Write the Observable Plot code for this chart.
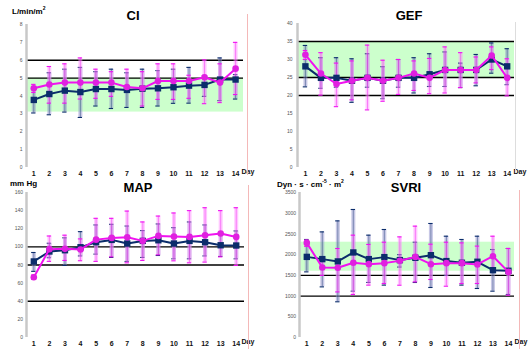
<!DOCTYPE html>
<html><head><meta charset="utf-8">
<script src="https://cdn.jsdelivr.net/npm/d3@7"></script>
<script src="https://cdn.jsdelivr.net/npm/@observablehq/plot@0.6"></script>
<style>
html,body{margin:0;padding:0;background:#fff;}
#root{position:relative;width:528px;height:349px;overflow:hidden;font-family:"Liberation Sans",Arial,sans-serif;background:#fff;}
.panel{position:absolute;}
.panel svg{background:transparent;overflow:visible;display:block;}
.ttl{position:absolute;font-weight:bold;font-size:13px;transform:translate(-50%,-50%);white-space:nowrap;color:#000;}
.unit{position:absolute;font-weight:bold;font-size:8px;transform:translateY(-50%);white-space:nowrap;color:#000;line-height:1;}
.vl{position:absolute;width:1px;}
[aria-label^="x-axis"] text{font-size:7px;font-weight:bold;fill:#111;}
[aria-label^="y-axis"] text{font-size:5px;fill:#555;}
</style></head><body><div id="root"></div><script>
// ---- data ----
const days = [1,2,3,4,5,6,7,8,9,10,11,12,13,14];
const dayLabel = "Day";

const ciNavy   = [3.78,4.11,4.30,4.22,4.39,4.39,4.34,4.41,4.43,4.49,4.58,4.62,4.92,4.92];
const ciNavyLo = [3.05,2.95,3.10,2.80,3.44,3.30,3.36,3.36,3.44,3.59,3.60,3.98,3.74,3.83];
const ciNavyHi = [4.50,5.30,5.50,5.60,5.36,5.50,5.30,5.50,5.42,5.50,5.60,5.15,6.13,5.20];
const ciPink   = [4.43,4.64,4.75,4.75,4.75,4.75,4.50,4.43,4.84,4.84,4.84,5.05,4.75,5.53];
const ciPinkLo = [4.20,3.60,3.60,3.83,3.87,3.98,4.20,3.44,3.81,3.81,3.87,3.57,3.63,4.08];
const ciPinkHi = [4.65,5.65,5.80,6.13,5.50,5.36,5.50,5.36,5.80,5.80,5.16,6.02,5.80,7.00];
const ciTicks = [0,1,2,3,4,5,6,7,8];
const ciBand = [3.1,5];
const ciRefs = [5,6];

const gefNavy   = [28.1,24.9,24.9,24.1,24.9,24.1,24.9,24.9,25.9,27.1,27.1,27.1,30.0,28.1];
const gefNavyLo = [22.4,22.0,22.3,18.1,22.3,19.1,22.3,20.7,22.5,22.5,22.2,22.7,26.2,23.0];
const gefNavyHi = [33.9,30.5,30.5,30.2,31.6,28.0,30.0,30.5,31.6,32.1,29.0,31.4,34.6,33.0];
const gefPink   = [31.3,26.1,23.2,24.1,24.9,24.1,24.9,26.1,24.9,27.1,27.1,27.1,31.1,24.9];
const gefPinkLo = [30.0,20.1,16.9,18.8,16.0,18.4,20.3,21.4,20.5,20.7,22.2,23.5,27.2,19.9];
const gefPinkHi = [32.5,31.9,29.0,29.6,34.0,29.8,30.0,29.6,30.3,33.5,31.9,30.7,33.5,30.2];
const gefTicks = [0,5,10,15,20,25,30,35,40];
const gefBand = [25,35];
const gefRefs = [20,25,35];

const mapNavy   = [83.9,94.9,96.3,99.6,105.1,107.7,103.7,106.6,107.3,103.7,106.6,105.1,101.8,101.5];
const mapNavyLo = [73.0,88.0,79.5,90.0,92.0,88.3,83.9,88.3,90.5,86.8,86.8,90.0,89.4,86.8];
const mapNavyHi = [93.8,104.0,110.0,116.8,124.2,124.9,123.0,118.0,125.3,121.2,127.5,124.2,115.0,117.6];
const mapPink   = [66.5,97.5,97.8,97.1,108.0,109.9,110.6,106.6,112.1,111.4,111.0,112.8,114.7,111.0];
const mapPinkLo = [64.0,84.0,85.0,84.7,84.0,89.0,82.4,85.0,91.2,84.6,82.4,83.2,89.0,79.5];
const mapPinkHi = [69.0,112.0,112.9,108.8,131.5,131.5,139.5,127.5,134.0,137.4,140.0,143.2,140.0,143.2];
const mapTicks = [0,20,40,60,80,100,120,140,160];
const mapRefs = [40,80,100];

const svNavy   = [1946,1892,1836,2053,1892,1940,1868,1924,1987,1844,1804,1828,1625,1610];
const svNavyLo = [1584,1222,862,1119,1328,1264,1700,1328,1207,1500,1264,1183,1118,1039];
const svNavyHi = [2366,2549,2815,3090,2470,2607,2000,2300,2752,2445,2366,2445,2124,2148];
const svPink   = [2284,1690,1683,1804,1771,1795,1852,1946,1769,1795,1795,1763,1962,1584];
const svPinkLo = [2200,1500,1100,1038,1264,1303,1262,1342,1400,1238,1303,1303,1600,1021];
const svPinkHi = [2350,1900,2148,2470,2246,2300,2429,2688,2252,2300,2284,2206,2445,2150];
const svTicks = [0,500,1000,1500,2000,2500,3000,3500];
const svBand = [1600,2300];
const svRefs = [1000,1500];

// ---- styling ----
const NAVY = "#0b2d6b";
const MAG = "#f012f0";
const MAGDOT = "#e020e0";

function panel(o) {
  const A = days.map((d, i) => ({day: d, v: o.a[i], lo: o.aLo[i], hi: o.aHi[i]}));
  const B = days.map((d, i) => ({day: d, v: o.b[i], lo: o.bLo[i], hi: o.bHi[i]}));
  const x0 = o.xDomain[0], x1 = o.xDomain[1];
  const marks = [];
  if (o.band) {
    const bandRow = [{left: x0, right: x1, lo: o.band[0], hi: o.band[1]}];
    marks.push(Plot.rect(bandRow, {x1: "left", x2: "right", y1: "lo", y2: "hi", fill: "#ccffcc", inset: 0}));
  }
  marks.push(Plot.ruleY(o.refs, {stroke: "#000", strokeWidth: 1.3}));
  marks.push(Plot.ruleX([x0], {stroke: "#c8c8c8", strokeWidth: 2.5}));
  for (const [S, c, light] of [[A, NAVY, "#9090cc"], [B, MAG, "#ff90ff"]]) {
    marks.push(Plot.ruleX(S, {x: "day", y1: "lo", y2: "hi", stroke: light, strokeWidth: 4, strokeOpacity: 0.5}));
    marks.push(Plot.ruleX(S, {x: "day", y1: "lo", y2: "hi", stroke: c, strokeWidth: 0.7, strokeOpacity: 0.6}));
    marks.push(Plot.ruleY(S, {y: "hi", x1: d => d.day - 0.14, x2: d => d.day + 0.14, stroke: c, strokeWidth: 1.1}));
    marks.push(Plot.ruleY(S, {y: "lo", x1: d => d.day - 0.14, x2: d => d.day + 0.14, stroke: c, strokeWidth: 1.1}));
  }
  marks.push(Plot.line(A, {x: "day", y: "v", stroke: NAVY, strokeWidth: 2}));
  marks.push(Plot.dot(A, {x: "day", y: "v", symbol: "square", r: 3.6, fill: NAVY}));
  marks.push(Plot.line(B, {x: "day", y: "v", stroke: MAG, strokeWidth: 2}));
  marks.push(Plot.dot(B, {x: "day", y: "v", symbol: "circle", r: 3.3, fill: MAGDOT}));
  marks.push(Plot.text([dayLabel], {text: d => d, frameAnchor: "bottom-right", textAnchor: "start", dx: o.dayDx, dy: 6, fontSize: 7, fontWeight: "bold", fill: "#111"}));
  return Plot.plot({
    width: o.w, height: o.h,
    marginLeft: o.ml, marginRight: o.mr, marginTop: o.mt, marginBottom: o.mb,
    x: {type: "linear", domain: o.xDomain, ticks: days, tickSize: 0, tickPadding: 3.5, tickFormat: d => String(d), label: null},
    y: {domain: o.yDomain, ticks: o.yTicks, tickSize: 0, tickPadding: o.yPad, tickFormat: d => String(d), label: null},
    style: {background: "transparent", fontFamily: "Liberation Sans, Arial, sans-serif"},
    marks
  });
}

const root = document.getElementById("root");
function place(node, left, top) {
  const d = document.createElement("div");
  d.className = "panel";
  d.style.left = left + "px"; d.style.top = top + "px";
  d.appendChild(node);
  root.appendChild(d);
}
function label(cls, text, left, top, size) {
  const d = document.createElement("div");
  d.className = cls;
  d.innerHTML = text;
  d.style.left = left + "px"; d.style.top = top + "px";
  if (size) d.style.fontSize = size + "px";
  root.appendChild(d);
}
function vline(left, top, h, color) {
  const d = document.createElement("div");
  d.className = "vl";
  d.style.left = left + "px"; d.style.top = top + "px"; d.style.height = h + "px"; d.style.background = color;
  root.appendChild(d);
}

place(panel({a: ciNavy, aLo: ciNavyLo, aHi: ciNavyHi, b: ciPink, bLo: ciPinkLo, bHi: ciPinkHi,
  yDomain: [0, 8], yTicks: ciTicks, band: ciBand, refs: ciRefs, xDomain: [0.53, 14.51],
  w: 264, h: 180, ml: 26, mr: 21, mt: 24, mb: 13, yPad: 4, dayDx: -2}), 0, 0);
place(panel({a: gefNavy, aLo: gefNavyLo, aHi: gefNavyHi, b: gefPink, bLo: gefPinkLo, bHi: gefPinkHi,
  yDomain: [0, 40], yTicks: gefTicks, band: gefBand, refs: gefRefs, xDomain: [0.49, 14.47],
  w: 264, h: 180, ml: 33, mr: 14, mt: 23, mb: 13, yPad: 5, dayDx: -1}), 264, 0);
place(panel({a: mapNavy, aLo: mapNavyLo, aHi: mapNavyHi, b: mapPink, bLo: mapPinkLo, bHi: mapPinkHi,
  yDomain: [0, 160], yTicks: mapTicks, band: null, refs: mapRefs, xDomain: [0.53, 14.53],
  w: 264, h: 174, ml: 26, mr: 20, mt: 17, mb: 12, yPad: 3.5, dayDx: -3}), 0, 175);
place(panel({a: svNavy, aLo: svNavyLo, aHi: svNavyHi, b: svPink, bLo: svPinkLo, bHi: svPinkHi,
  yDomain: [0, 3500], yTicks: svTicks, band: svBand, refs: svRefs, xDomain: [0.53, 14.39],
  w: 264, h: 174, ml: 35, mr: 14, mt: 17, mb: 12, yPad: 3.5, dayDx: 0}), 264, 175);

vline(247, 14, 161, "#f4b8b8");
vline(515, 22, 150, "#dddddd");
vline(248, 185, 164, "#f4b8b8");
vline(519, 190, 159, "#f4b8b8");

label("ttl", "CI", 133, 15);
label("ttl", "GEF", 409, 15);
label("ttl", "MAP", 138, 187);
label("ttl", "SVRI", 406, 187);
label("unit", "L/min/m<sup style='font-size:5px'>2</sup>", 12, 11, 8);
label("unit", "mm Hg", 10, 184, 8);
label("unit", "Dyn · s · cm<sup style='font-size:5px'>-5</sup> · m<sup style='font-size:5px'>2</sup>", 277, 184, 8);
</script></body></html>
